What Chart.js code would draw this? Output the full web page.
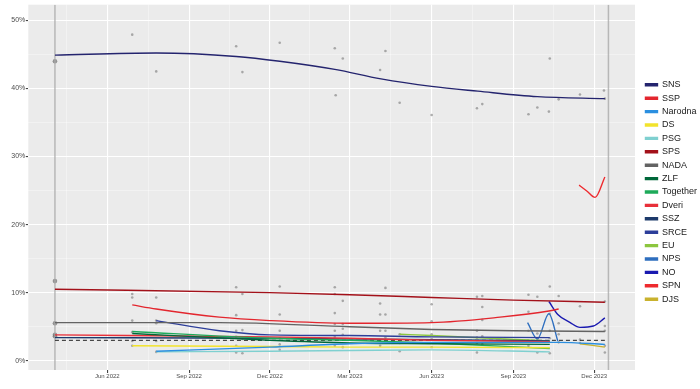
<!DOCTYPE html>
<html>
<head>
<meta charset="utf-8">
<script src="https://cdn.jsdelivr.net/npm/chart.js@4.4.1/dist/chart.umd.min.js"></script>
<style>
  html, body { margin: 0; padding: 0; background: #fff; }
  #wrap { width: 700px; height: 389px; }
</style>
</head>
<body>
<div id="wrap"><canvas id="myChart"></canvas></div>
<script>
// parties in legend order
var parties = ['SNS','SSP','Narodna','DS','PSG','SPS','NADA','ZLF','Together','Dveri','SSZ','SRCE','EU','NPS','NO','SPN','DJS'];
var colors = ['#24246e','#e3262e','#2b8fe0','#f2e32c','#7fd0d0','#a3111a','#636363','#00673a','#1eaa5a','#e8303a','#1d3a6b','#2d3e9a','#8cc63f','#2f6fbf','#1a1ab0','#ee2a2e','#c9b22e'];

// trend lines, [date, percent]
var trendSNS = [['2022-04-03',44.9],['2022-07-26',45.2],['2022-10-24',44.7],['2022-12-12',44.0],['2023-02-12',42.8],['2023-04-05',41.4],['2023-06-01',40.3],['2023-07-23',39.6],['2023-09-28',38.8],['2023-12-13',38.5]];
var trendSSP = [['2022-06-29',8.2],['2022-07-26',7.6],['2022-10-05',6.4],['2022-12-01',5.9],['2023-03-01',5.5],['2023-06-01',5.6],['2023-08-17',6.4],['2023-10-11',7.3],['2023-10-22',7.6]];
var trendNarodna = [['2022-07-26',1.4],['2022-12-01',2.0],['2023-03-01',2.5],['2023-06-01',2.7],['2023-10-22',2.7],['2023-12-13',2.4]];
var trendDS = [['2022-06-29',2.2],['2022-12-01',2.1],['2023-03-01',2.0],['2023-06-01',2.0],['2023-10-12',1.9]];
var trendPSG = [['2022-07-26',1.3],['2022-12-01',1.4],['2023-03-01',1.5],['2023-06-01',1.6],['2023-10-12',1.3]];
var trendSPS = [['2022-04-03',10.5],['2022-12-01',10.0],['2023-03-01',9.7],['2023-06-01',9.3],['2023-09-01',8.9],['2023-12-13',8.6]];
var trendNADA = [['2022-04-03',5.6],['2022-10-05',5.6],['2023-03-01',5.0],['2023-06-01',4.6],['2023-09-01',4.4],['2023-12-13',4.3]];
var trendZLF = [['2022-06-29',4.0],['2022-12-01',3.0],['2023-03-01',2.6],['2023-06-01',2.5],['2023-10-12',2.4]];
var trendTogether = [['2022-06-29',4.3],['2022-12-01',3.3],['2023-03-01',3.0],['2023-06-01',2.6],['2023-10-12',1.8]];
var trendDveri = [['2022-04-03',3.8],['2022-12-01',3.5],['2023-03-01',3.3],['2023-06-01',3.0],['2023-10-12',2.8]];
var trendSSZ = [['2022-04-03',3.4],['2022-12-01',3.3],['2023-06-01',3.1],['2023-10-12',2.9]];
var trendSRCE = [['2022-07-26',5.9],['2022-10-05',4.4],['2022-12-01',3.8],['2023-03-01',3.7],['2023-06-01',3.5],['2023-10-12',3.4]];
var trendEU = [['2023-04-26',3.9],['2023-06-01',3.7],['2023-10-12',2.9]];
var trendNPS = [['2023-09-17',5.6],['2023-09-28',3.2],['2023-10-11',6.9],['2023-10-21',2.9]];
var trendNO = [['2023-10-11',8.7],['2023-10-21',6.8],['2023-11-04',5.6],['2023-11-15',4.9],['2023-11-30',5.1],['2023-12-13',6.3]];
var trendSPN = [['2023-11-14',25.8],['2023-11-23',24.9],['2023-12-02',24.0],['2023-12-13',27.0]];
var trendDJS = [['2023-11-15',2.5],['2023-12-13',2.0]];
var trends = [trendSNS,trendSSP,trendNarodna,trendDS,trendPSG,trendSPS,trendNADA,trendZLF,trendTogether,trendDveri,trendSSZ,trendSRCE,trendEU,trendNPS,trendNO,trendSPN,trendDJS];

// polls (gray dots)
var snsPollDates = ['2022-06-29','2022-07-26','2022-10-24','2022-10-31','2022-12-12','2023-02-12','2023-02-21','2023-02-13','2023-04-10','2023-04-04','2023-04-26','2023-06-01','2023-07-22','2023-07-28','2023-09-18','2023-09-28','2023-10-12','2023-10-11','2023-10-22','2023-11-15','2023-12-12','2023-12-13'];
var snsPollValues = [47.9,42.5,46.2,42.4,46.7,45.9,44.4,39.0,45.5,42.7,37.9,36.1,37.1,37.7,36.2,37.2,44.4,36.6,38.4,39.1,39.7,38.5];
var otherPollDates = ['2022-06-29','2022-07-26','2022-10-24','2022-10-31','2022-12-12','2023-02-12','2023-02-21','2023-04-04','2023-04-10','2023-04-26','2023-06-01','2023-07-22','2023-07-28','2023-09-18','2023-09-28','2023-10-12','2023-10-22','2023-11-15','2023-12-13'];
var otherPollValues = [
  [9.8,9.3,5.9,4.2,2.9,2.2],
  [9.3,5.9,5.5,2.9,1.3],
  [10.8,6.7,4.4,3.5,2.2,1.2],
  [9.8,4.5,3.2,1.1],
  [10.9,6.8,4.4,3.3,2.4,1.6],
  [10.8,9.8,7.0,5.4,4.4,3.5,2.2],
  [8.8,5.4,4.7,3.8,2.0],
  [8.4,6.8,4.4,3.0,2.2],
  [10.7,6.8,4.4,3.4],
  [3.9,2.6,1.4],
  [8.3,5.8,3.9,3.2,2.0],
  [9.4,4.4,3.4,2.6,1.2],
  [9.5,7.9,6.0,3.6,2.4],
  [9.7,7.2,4.4,3.0,2.2],
  [9.4,4.0,3.2,1.2],
  [10.9,6.9,4.4,3.3,1.1],
  [9.5,5.5,3.9,2.7],
  [8.0,3.1,2.6],
  [8.7,5.1,4.4,2.2,1.2]
];
var electionDates = ['2022-04-03','2023-12-17'];
var electionResults = [44.0,11.7,5.5,3.8,3.6];
var threshold = 3;

var xTickDates = ['2022-06-01','2022-09-01','2022-12-01','2023-03-01','2023-06-01','2023-09-01','2023-12-01'];
var xTickLabels = ['Jun 2022','Sep 2022','Dec 2022','Mar 2023','Jun 2023','Sep 2023','Dec 2023'];
var xMinorDates = ['2022-04-16','2022-07-17','2022-10-16','2023-01-15','2023-04-16','2023-07-17','2023-10-16','2024-01-16'];
var yTicks = [0,5,10,15,20,25,30,35,40,45,50];

var ts = d => Date.parse(d + 'T00:00:00Z');
var xMin = ts('2022-03-04'), xMax = ts('2024-01-16');
var yMin = -1.36, yMax = 52.3;

var datasets = [];
parties.forEach((p, i) => {
  datasets.push({
    label: p,
    data: trends[i].map(r => ({x: ts(r[0]), y: r[1]})),
    showLine: true,
    borderColor: colors[i],
    backgroundColor: colors[i],
    borderWidth: 1.4,
    pointRadius: 0,
    cubicInterpolationMode: 'monotone',
    fill: false,
    order: i + 1
  });
});

var pollPts = [];
snsPollDates.forEach((d, i) => pollPts.push({x: ts(d), y: snsPollValues[i]}));
otherPollDates.forEach((d, i) => otherPollValues[i].forEach(v => pollPts.push({x: ts(d), y: v})));
datasets.push({label: '_polls', data: pollPts, pointRadius: 1.3, pointBorderWidth: 0,
  backgroundColor: 'rgba(110,110,110,0.55)', borderColor: 'rgba(110,110,110,0.55)', order: 100});
datasets.push({label: '_election', data: electionResults.map(v => ({x: ts(electionDates[0]), y: v})),
  pointRadius: 2.3, pointBorderWidth: 0, backgroundColor: 'rgba(110,110,110,0.7)', order: 99});
electionDates.forEach(d => {
  datasets.push({label: '_vline', data: [{x: ts(d), y: yMin}, {x: ts(d), y: yMax}], showLine: true,
    borderColor: 'rgba(170,170,170,0.8)', borderWidth: 1.5, pointRadius: 0, order: 98});
});
datasets.push({label: '_threshold', data: [{x: ts(electionDates[0]), y: threshold}, {x: ts('2023-12-13'), y: threshold}],
  showLine: true, borderColor: '#222', borderWidth: 1, borderDash: [4, 3], pointRadius: 0, order: 50});

const panelBg = {
  id: 'panelBg',
  beforeDraw(chart) {
    const {ctx, chartArea: a} = chart;
    ctx.save();
    ctx.fillStyle = '#ebebeb';
    ctx.fillRect(a.left, a.top, a.right - a.left, a.bottom - a.top);
    ctx.restore();
  }
};

var isMajorX = v => xTickDates.some(d => ts(d) === v);

const ctx = document.getElementById('myChart');
var chart = new Chart(ctx, {
  type: 'scatter',
  data: {datasets: datasets},
  plugins: [panelBg],
  options: {
    animation: false,
    responsive: true,
    maintainAspectRatio: false,
    layout: {padding: {top: 3, bottom: 8, right: -7}},
    font: {family: "'Liberation Sans', Arial, sans-serif"},
    plugins: {
      tooltip: {enabled: false},
      legend: {
        position: 'right',
        labels: {
          filter: item => !item.text.startsWith('_'),
          boxWidth: 12,
          boxHeight: 2,
          padding: 4.4,
          color: '#1a1a1a',
          font: {size: 9, family: "'Liberation Sans', Arial, sans-serif"}
        }
      }
    },
    scales: {
      x: {
        type: 'linear',
        min: xMin,
        max: xMax,
        afterBuildTicks: s => { s.ticks = xTickDates.concat(xMinorDates).map(d => ({value: ts(d)})).sort((a, b) => a.value - b.value); },
        afterFit: s => { s.height = 11; },
        border: {display: false},
        grid: {
          color: c => c.tick && isMajorX(c.tick.value) ? '#ffffff' : 'rgba(255,255,255,0.7)',
          lineWidth: c => c.tick && isMajorX(c.tick.value) ? 1.1 : 0.55,
          tickColor: c => c.tick && isMajorX(c.tick.value) ? '#444' : 'rgba(0,0,0,0)',
          tickLength: 3
        },
        ticks: {
          autoSkip: false,
          maxRotation: 0,
          padding: 0,
          color: '#4d4d4d',
          font: {size: 6},
          callback: v => { var k = xTickDates.findIndex(d => ts(d) === v); return k >= 0 ? xTickLabels[k] : ''; }
        }
      },
      y: {
        min: yMin,
        max: yMax,
        afterBuildTicks: s => { s.ticks = yTicks.map(v => ({value: v})); },
        afterFit: s => { s.width = 28.3; },
        border: {display: false},
        grid: {
          color: c => c.tick && c.tick.value % 10 === 0 ? '#ffffff' : 'rgba(255,255,255,0.7)',
          lineWidth: c => c.tick && c.tick.value % 10 === 0 ? 1.1 : 0.55,
          tickColor: c => c.tick && c.tick.value % 10 === 0 ? '#444' : 'rgba(0,0,0,0)',
          tickLength: 2.5
        },
        ticks: {
          padding: 0.5,
          color: '#4d4d4d',
          font: {size: 7},
          callback: v => v % 10 === 0 ? v + '%' : ''
        }
      },
      y2: {
        position: 'right',
        display: true,
        min: 0, max: 1,
        afterFit: s => { s.width = 6; },
        border: {display: false},
        grid: {display: false},
        ticks: {display: false}
      }
    }
  }
});
</script>
</body>
</html>
